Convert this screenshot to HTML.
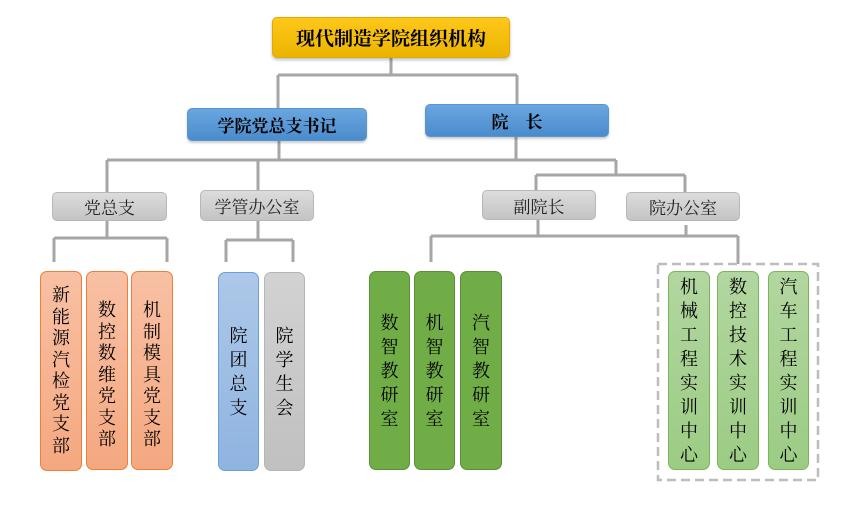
<!DOCTYPE html>
<html><head><meta charset="utf-8"><style>
body{margin:0;width:857px;height:515px;background:#fff;position:relative;overflow:hidden;font-family:"Liberation Serif","Noto Serif CJK SC","Noto Sans CJK SC",serif;color:#000}
.b{position:absolute;box-sizing:border-box;display:flex;align-items:center;justify-content:center;border-radius:5px}
.g{background:linear-gradient(#dcdcdc,#c4c4c4);border:1px solid #b8b8b8;font-size:17px;color:#222}
.bl{background:linear-gradient(#6aa6e0,#4a8ccc);border:1px solid #5a95d0;font-size:17px;font-weight:bold;box-shadow:0 2px 2px rgba(0,0,0,.2)}
.v{position:absolute;box-sizing:border-box;border-radius:7px;display:flex;flex-direction:column;align-items:center;justify-content:center;font-size:18px;line-height:24px}
.o{background:linear-gradient(#f8c0a4,#f4a880);border:1px solid #ee7f3a;line-height:21.5px}
.lb{background:linear-gradient(#adc8e8,#8fb4e0);border:1px solid #6f9fd8}
.gr{background:linear-gradient(#d2d2d2,#c0c0c0);border:1px solid #b5b5b5}
.dg{background:#70ad47;border:1px solid #5a8f38}
.lg{background:linear-gradient(#b2d6a0,#9ccc84);border:1px solid #7ab55c}
</style></head><body>
<svg width="857" height="515" style="position:absolute;left:0;top:0" fill="none" stroke="#a6a6a6" stroke-width="3">
<path d="M391 58V75M278 75H517M278 75V108M517 75V104"/>
<path d="M279 141V160M516 137V160M107 160H616M616 160V175M536 175H685M536 175V191M685 175V192M107 160V192M258 160V190"/>
<path d="M107 221V238M54 238H167M54 238V262M167 238V262"/>
<path d="M258 221V240M226 240H293M226 240V262M293 240V262"/>
<path d="M538 220V236M686 225V236M431 236H738M431 236V262M738 236V264"/>
<rect x="658" y="264" width="160" height="216" stroke="#bdbdbd" stroke-width="2.5" stroke-dasharray="9 5"/>
</svg>
<div class="b" style="left:272px;top:17px;width:238px;height:41px;background:linear-gradient(#ffc81a,#eab400);border:1px solid #e0a800;font-size:19px;font-weight:bold;box-shadow:0 2px 3px rgba(0,0,0,.25)">现代制造学院组织机构</div>
<div class="bl b" style="left:187px;top:108px;width:180px;height:33px">学院党总支书记</div>
<div class="bl b" style="left:425px;top:104px;width:184px;height:33px">院&emsp;长</div>
<div class="g b" style="left:52px;top:192px;width:115px;height:29px">党总支</div>
<div class="g b" style="left:200px;top:190px;width:114px;height:31px">学管办公室</div>
<div class="g b" style="left:482px;top:190px;width:114px;height:30px">副院长</div>
<div class="g b" style="left:626px;top:192px;width:114px;height:29px">院办公室</div>
<div class="v o" style="left:40px;top:271px;width:42px;height:200px">新<br>能<br>源<br>汽<br>检<br>党<br>支<br>部</div>
<div class="v o" style="left:86px;top:271px;width:42px;height:199px;justify-content:flex-start;padding-top:28px">数<br>控<br>数<br>维<br>党<br>支<br>部</div>
<div class="v o" style="left:131px;top:271px;width:42px;height:199px;justify-content:flex-start;padding-top:28px">机<br>制<br>模<br>具<br>党<br>支<br>部</div>
<div class="v lb" style="left:218px;top:272px;width:41px;height:199px">院<br>团<br>总<br>支</div>
<div class="v gr" style="left:264px;top:272px;width:41px;height:199px">院<br>学<br>生<br>会</div>
<div class="v dg" style="left:369px;top:271px;width:41px;height:199px">数<br>智<br>教<br>研<br>室</div>
<div class="v dg" style="left:414px;top:271px;width:41px;height:199px">机<br>智<br>教<br>研<br>室</div>
<div class="v dg" style="left:460px;top:271px;width:42px;height:199px">汽<br>智<br>教<br>研<br>室</div>
<div class="v lg" style="left:668px;top:271px;width:42px;height:199px">机<br>械<br>工<br>程<br>实<br>训<br>中<br>心</div>
<div class="v lg" style="left:717px;top:271px;width:42px;height:199px">数<br>控<br>技<br>术<br>实<br>训<br>中<br>心</div>
<div class="v lg" style="left:768px;top:271px;width:41px;height:199px">汽<br>车<br>工<br>程<br>实<br>训<br>中<br>心</div>
</body></html>
